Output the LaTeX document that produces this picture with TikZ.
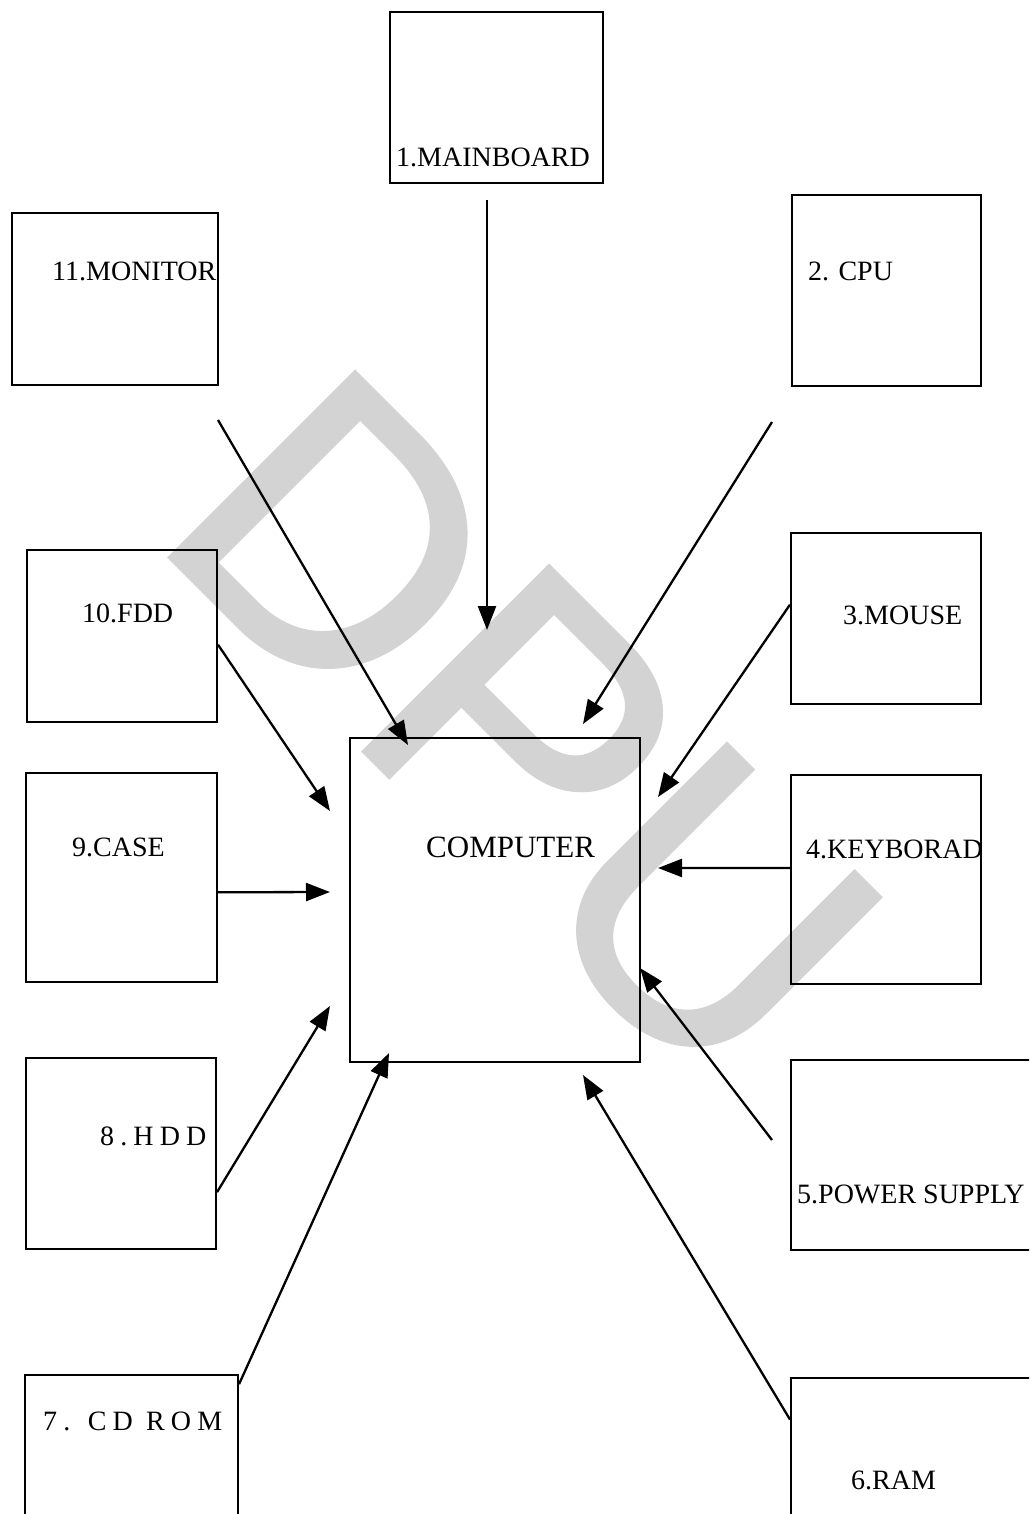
\documentclass[tikz,border=0pt]{standalone}
\usepackage{fontspec}
\setmainfont{Liberation Serif}
\newfontfamily\wmfont[FakeBold=1.2]{Liberation Sans}
\usetikzlibrary{arrows.meta,calc}
\definecolor{wmgrey}{RGB}{211,211,211}
\tikzset{
  box/.style={draw, line width=2.1pt, inner sep=0pt},
  lbl/.style={anchor=west, inner sep=0pt, font=\fontsize{28}{31}\selectfont},
  spaced/.style={anchor=west, inner sep=0pt, font=\fontsize{28}{31}\selectfont\addfontfeatures{LetterSpace=22}},
  conn/.style={line width=2.3pt, -{Triangle[length=24pt,width=18pt]}},
  wm/.style={inner sep=0pt, text=wmgrey, rotate=-45, font=\wmfont\fontsize{380}{380}\selectfont}
}
\begin{document}
\begin{tikzpicture}[x=1pt,y=-1pt]
\useasboundingbox (0,0) rectangle (1029,1514);
\clip (0,0) rectangle (1029,1514);
% watermark
\node[wm] (wmark) at (523,728) {DPU};
% boxes
\node[box, minimum width=213pt, minimum height=171pt] (mb)   at (496.5,97.5) {};
\node[box, minimum width=189pt, minimum height=191pt] (cpu)  at (886.5,290.5) {};
\node[box, minimum width=190pt, minimum height=171pt] (mouse) at (886,618.5) {};
\node[box, minimum width=190pt, minimum height=209pt] (kbd)  at (886,879.5) {};
\node[box, minimum width=254pt, minimum height=190pt] (psu)  at (918,1155) {};
\node[box, minimum width=254pt, minimum height=152pt] (ram)  at (918,1454) {};
\node[box, minimum width=213pt, minimum height=155pt] (cd)   at (131.5,1452.5) {};
\node[box, minimum width=190pt, minimum height=191pt] (hdd)  at (121,1153.5) {};
\node[box, minimum width=191pt, minimum height=209pt] (case) at (121.5,877.5) {};
\node[box, minimum width=190pt, minimum height=172pt] (fdd)  at (122,636) {};
\node[box, minimum width=206pt, minimum height=172pt] (mon)  at (115,299) {};
\node[box, minimum width=290pt, minimum height=324pt] (comp) at (495,900) {};
% labels
\node[lbl] (tmb)   at (396,157)  {1.MAINBOARD};
\node[lbl] (tcpu)  at (808,271)  {2. CPU};
\node[lbl] (tmouse) at (843,615) {3.MOUSE};
\node[lbl] (tkbd)  at (806,849)  {4.KEYBORAD};
\node[lbl] (tpsu)  at (797,1194) {5.POWER SUPPLY};
\node[lbl] (tram)  at (851,1480) {6.RAM};
\node[spaced] (tcd)  at (43,1421)  {7. CD ROM};
\node[spaced] (thdd) at (100,1136) {8.HDD};
\node[lbl] (tcase) at (72,847)   {9.CASE};
\node[lbl] (tfdd)  at (82,613)   {10.FDD};
\node[lbl] (tmon)  at (52,271)   {11.MONITOR};
\node[lbl, font=\fontsize{31}{34}\selectfont] (tcomp) at (426,847) {COMPUTER};
% connector ends
\coordinate (mb-o)   at (487,200);
\coordinate (mb-i)   at (487,630);
\coordinate (mon-o)  at (218,420);
\coordinate (mon-i)  at (408,745);
\coordinate (cpu-o)  at (772,422);
\coordinate (cpu-i)  at (583,724);
\coordinate (fdd-o)  at ($(fdd.north east)!0.55!(fdd.south east)$);
\coordinate (fdd-i)  at (330,811);
\coordinate (mouse-o) at ($(mouse.north west)!0.42!(mouse.south west)$);
\coordinate (mouse-i) at (658,797);
\coordinate (kbd-o)  at ($(kbd.north west)!0.445!(kbd.south west)$);
\coordinate (kbd-i)  at (658,868);
\coordinate (case-o) at ($(case.north east)!0.57!(case.south east)$);
\coordinate (case-i) at (330,892);
\coordinate (hdd-o)  at ($(hdd.north east)!0.70!(hdd.south east)$);
\coordinate (hdd-i)  at (330,1006);
\coordinate (cd-o)   at ($(cd.north east)!0.065!(cd.south east)$);
\coordinate (cd-i)   at (389,1053);
\coordinate (psu-o)  at (772,1140);
\coordinate (psu-i)  at (640,968);
\coordinate (ram-o)  at ($(ram.north west)!0.276!(ram.south west)$);
\coordinate (ram-i)  at (583,1075);
% connectors
\draw[conn] (mb-o) -- (mb-i);
\draw[conn] (mon-o) -- (mon-i);
\draw[conn] (cpu-o) -- (cpu-i);
\draw[conn] (fdd-o) -- (fdd-i);
\draw[conn] (mouse-o) -- (mouse-i);
\draw[conn] (kbd-o) -- (kbd-i);
\draw[conn] (case-o) -- (case-i);
\draw[conn] (hdd-o) -- (hdd-i);
\draw[conn] (cd-o) -- (cd-i);
\draw[conn] (psu-o) -- (psu-i);
\draw[conn] (ram-o) -- (ram-i);
\end{tikzpicture}
\end{document}
